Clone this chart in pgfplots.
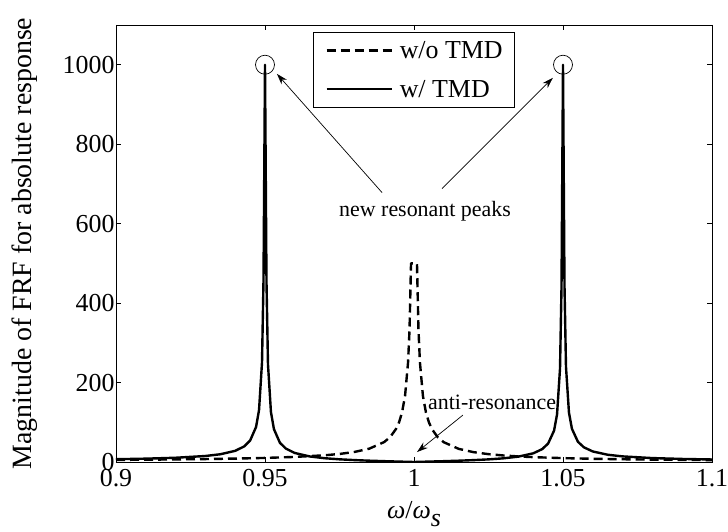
\documentclass[border=0pt]{standalone}
\usepackage{pgfplots}
\pgfplotsset{compat=1.18}
\usepackage{fontspec}
\setmainfont{Liberation Serif}
\usetikzlibrary{arrows.meta}
\begin{document}
\begin{tikzpicture}
\path[use as bounding box] (-116bp,-70bp) rectangle (612bp,462bp);
\begin{axis}[
  at={(0bp,0bp)}, anchor=south west,
  scale only axis, width=596bp, height=437bp,
  xmin=0.9, xmax=1.1, ymin=0, ymax=1100,
  xtick={0.9,0.95,1,1.05,1.1}, xticklabels={0.9,0.95,1,1.05,1.1},
  ytick={0,200,400,600,800,1000}, yticklabels={0,200,400,600,800,1000},
  tick align=inside, major tick length=5bp,
  tick style={line width=0.6bp, black},
  axis line style={line width=0.8bp},
  tick label style={font=\fontsize{26}{30}\selectfont},
  yticklabel style={xshift=2bp},
  xticklabel style={yshift=-4bp},
  xlabel={\textit{ω}/\textit{ω}\raisebox{-0.3em}{\textit{s}}},
  xlabel style={font=\fontsize{26}{30}\selectfont, at={(axis description cs:0.5,-0.12)}, anchor=center},
  ylabel={Magnitude of FRF for absolute response},
  ylabel style={font=\fontsize{28}{32}\selectfont, at={(axis description cs:-0.154,0.5)}, anchor=center},
  legend style={at={(rel axis cs:0.3305,0.984)}, anchor=north west,
    font=\fontsize{26}{30}\selectfont, draw=black, line width=0.8bp,
    inner xsep=12bp, inner ysep=9bp, row sep=20bp, column sep=7bp,
    nodes={inner sep=0bp}},
  legend cell align=left,
  legend image code/.code={\draw[#1] (0bp,0bp) -- (65bp,0bp);},
]
\addplot[black, line width=2.4bp, dash pattern=on 9bp off 5bp, line join=round] coordinates {
(0.900,5.26) (0.910,5.82) (0.920,6.51) (0.930,7.40) (0.940,8.59) (0.950,10.26)
(0.960,12.76) (0.970,16.92) (0.975,20.25) (0.980,25.25) (0.985,33.59) (0.990,50.25)
(0.992,62.75) (0.994,83.58) (0.995,100.2) (0.996,125.2) (0.997,166.9) (0.998,250.1)
(0.9985,333) (0.999,500) (1.000,500) (1.001,500) (1.0015,333) (1.002,250)
(1.003,166) (1.004,125) (1.005,100) (1.006,83) (1.008,62) (1.010,49.75)
(1.015,33.08) (1.020,24.75) (1.025,19.75) (1.030,16.42) (1.035,14.04) (1.040,12.25)
(1.050,9.76) (1.060,8.09) (1.070,6.90) (1.080,6.00) (1.090,5.32) (1.100,4.76)
};
\addlegendentry{w/o TMD}
\addplot[black, line width=2.4bp, line join=round] coordinates {
(0.900,7.02) (0.910,8.42) (0.920,10.69) (0.930,15.12) (0.935,19.49) (0.940,28.13)
(0.943,39.19) (0.945,53.90) (0.947,88.15) (0.948,130.9) (0.949,251.1) (0.9495,458.8)
(0.950,1000) (0.9505,454.4) (0.951,245.9) (0.952,125.5) (0.953,82.75) (0.955,48.49)
(0.957,33.77) (0.960,22.69) (0.965,13.98) (0.970,9.52) (0.975,6.76) (0.980,4.81)
(0.985,3.32) (0.990,2.10) (0.995,1.01) (1.000,0) (1.005,1.01) (1.010,2.07)
(1.015,3.27) (1.020,4.72) (1.025,6.59) (1.030,9.24) (1.035,13.50) (1.040,21.80)
(1.043,32.35) (1.045,46.35) (1.047,78.95) (1.048,119.7) (1.049,235.4) (1.0495,440.5)
(1.050,1000) (1.0505,444.9) (1.051,240.0) (1.052,124.3) (1.053,83.60) (1.055,51.01)
(1.057,37.02) (1.060,26.49) (1.065,18.26) (1.070,14.10) (1.080,9.87) (1.090,7.69)
(1.100,6.35)
};
\addlegendentry{w/ TMD}
\addplot[only marks, mark=o, mark size=9.5bp, black, mark options={line width=0.7bp}, forget plot] coordinates {(0.95,1000) (1.05,1000)};
\draw[line width=0.7bp, -{Stealth[length=11bp,width=7bp]}] (axis cs:0.9893,678) -- (axis cs:0.954,977);
\draw[line width=0.7bp, -{Stealth[length=11bp,width=7bp]}] (axis cs:1.0094,688) -- (axis cs:1.0466,967);
\node[font=\fontsize{22}{26}\selectfont] at (axis cs:1.0037,632) {new resonant peaks};
\draw[line width=0.7bp, -{Stealth[length=11bp,width=7bp]}] (axis cs:1.0164,118) -- (axis cs:1.0010,25);
\node[font=\fontsize{22}{26}\selectfont] at (axis cs:1.0262,149) {anti-resonance};
\end{axis}
\end{tikzpicture}
\end{document}
